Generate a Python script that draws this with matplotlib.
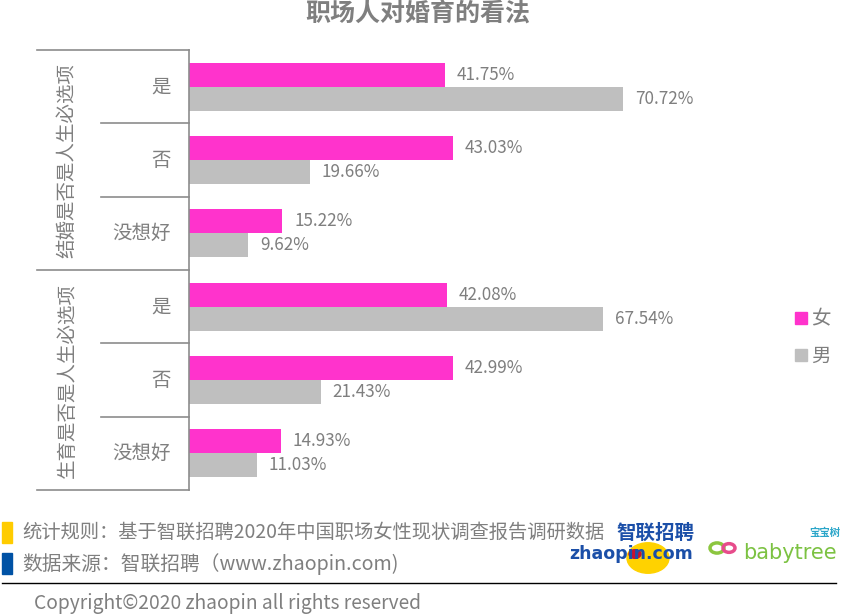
import matplotlib
matplotlib.use('Agg')
import matplotlib.pyplot as plt
from matplotlib.patches import Rectangle, Circle
from matplotlib.lines import Line2D

plt.rcParams['font.family'] = ['Noto Sans CJK SC', 'DejaVu Sans']

# data
groups = ['结婚是否是人生必选项', '生育是否是人生必选项']
answers = ['是', '否', '没想好']
female = [41.75, 43.03, 15.22, 42.08, 42.99, 14.93]
male = [70.72, 19.66, 9.62, 67.54, 21.43, 11.03]
series_names = ['女', '男']

pink = '#FF33CC'
grey_bar = '#BFBFBF'
txt = '#7F7F7F'
line_c = '#8C8C8C'

W, H = 846, 614
fig = plt.figure(figsize=(W / 100, H / 100), dpi=100)


def fx(x):
    return x / W


def fy(y):
    return 1 - y / H


# main axes: x 189..789 px, y 50..490 px
ax = fig.add_axes([fx(189), fy(490), fx(789) - fx(189), fy(50) - fy(490)])
px_per_pct = (623 - 189) / 70.72
ax.set_xlim(0, 600 / px_per_pct)
n = len(female)
ax.set_ylim(n - 0.5, -0.5)

bh = 0.327
ypos = list(range(n))
ax.barh([y - bh / 2 for y in ypos], female, height=bh, color=pink, label=series_names[0])
ax.barh([y + bh / 2 for y in ypos], male, height=bh, color=grey_bar, label=series_names[1])

for y, v in zip(ypos, female):
    ax.annotate(f'{v:.2f}%', (v, y - bh / 2), xytext=(8.5, 0), textcoords='offset points',
                va='center', ha='left', fontsize=12.3, color=txt)
for y, v in zip(ypos, male):
    ax.annotate(f'{v:.2f}%', (v, y + bh / 2), xytext=(8.5, 0), textcoords='offset points',
                va='center', ha='left', fontsize=12.3, color=txt)

for s in ['top', 'right', 'bottom']:
    ax.spines[s].set_visible(False)
ax.spines['left'].set_color(line_c)
ax.spines['left'].set_linewidth(1.2)
ax.set_xticks([])
ax.set_yticks([])

# hierarchical category labels on the left
row_h = (490 - 50) / n
for i in range(n):
    yc = 50 + row_h * (i + 0.5)
    fig.text(fx(171), fy(yc), answers[i % 3], ha='right', va='center', fontsize=14, color=txt)
for i in range(1, n):
    yb = 50 + row_h * i
    x0 = 37 if i % 3 == 0 else 101
    fig.add_artist(Line2D([fx(x0), fx(189)], [fy(yb), fy(yb)], color=line_c, lw=1.2))
for yb in (50, 490):
    fig.add_artist(Line2D([fx(37), fx(189)], [fy(yb), fy(yb)], color=line_c, lw=1.2))
for g, name in enumerate(groups):
    yc = 50 + row_h * 3 * (g + 0.5)
    fig.text(fx(67), fy(yc), name, rotation=90, ha='center', va='center', fontsize=14, color=txt)

# legend
for k, (name, c) in enumerate(zip(series_names, [pink, grey_bar])):
    yc = 318 + 37 * k
    fig.add_artist(Rectangle((fx(795), fy(yc + 6)), fx(12), 12 / H, color=c))
    fig.text(fx(811), fy(yc + 1), name, ha='left', va='center', fontsize=14, color=txt)

# title
fig.text(fx(418), fy(14), '职场人对婚育的看法', ha='center', va='center', fontsize=18,
         fontweight='bold', color=txt)

# footer
fig.add_artist(Rectangle((fx(2), fy(543)), fx(10), 21 / H, color='#FFCC00'))
fig.add_artist(Rectangle((fx(2), fy(574)), fx(10), 21 / H, color='#0052A5'))
fig.text(fx(22), fy(532), '统计规则：基于智联招聘2020年中国职场女性现状调查报告调研数据',
         ha='left', va='center', fontsize=13.9, color=txt)
fig.text(fx(22), fy(564), '数据来源：智联招聘（www.zhaopin.com)',
         ha='left', va='center', fontsize=14.2, color=txt)
fig.add_artist(Line2D([fx(2), fx(836)], [fy(583), fy(583)], color='black', lw=1))
fig.text(fx(34), fy(603), 'Copyright©2020 zhaopin all rights reserved',
         ha='left', va='center', fontsize=13.8, color=txt)

# logos (approximation)
fig.add_artist(Circle((fx(648), fy(558)), 21 / W, color='#FFD200',
                      transform=fig.transFigure))
fig.add_artist(Circle((fx(635), fy(554)), 6 / W, color='#C8102E',
                      transform=fig.transFigure))
fig.text(fx(655), fy(533), '智联招聘', ha='center', va='center', fontsize=14,
         fontweight='bold', color='#1B4FA8')
fig.text(fx(631), fy(554), 'zhaopin.com', ha='center', va='center', fontsize=12.5,
         fontweight='bold', color='#1B4FA8', family='DejaVu Sans')
fig.text(fx(825), fy(533), '宝宝树', ha='center', va='center', fontsize=7.5,
         fontweight='bold', color='#2BA6C9')
fig.text(fx(790), fy(553), 'babytree', ha='center', va='center', fontsize=15,
         fontweight='normal', color='#7CC242', family='DejaVu Sans')
fig.add_artist(Circle((fx(717), fy(548)), 7 / W, fill=False, lw=2.5, ec='#8CC63F',
                      transform=fig.transFigure))
fig.add_artist(Circle((fx(729), fy(548)), 6 / W, fill=False, lw=2.5, ec='#E74C8B',
                      transform=fig.transFigure))

fig.savefig('out.png', dpi=100)
